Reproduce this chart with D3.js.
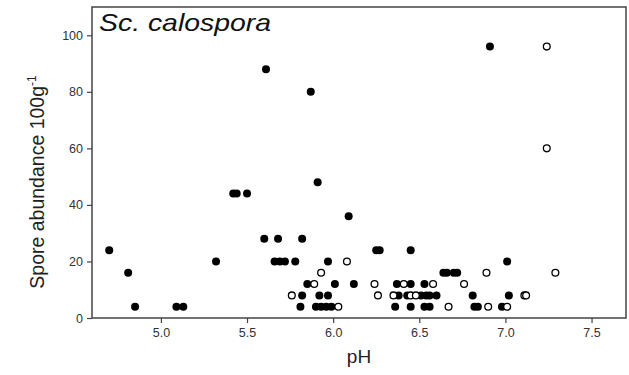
<!DOCTYPE html>
<html>
<head>
<meta charset="utf-8">
<script src="https://cdn.jsdelivr.net/npm/d3@7"></script>
<style>
  body { margin: 0; background: #fff; }
  text { font-family: "Liberation Sans", Arial, sans-serif; }
</style>
</head>
<body>
<div id="chart"></div>
<script>
// filled symbols
var filledPH = [4.70, 4.81, 4.85, 5.09, 5.13, 5.32, 5.42, 5.44, 5.50, 5.60, 5.68, 5.66, 5.69, 5.72,
  5.61, 5.87, 5.91, 6.09, 5.82, 5.78, 5.97, 5.85, 6.01, 6.12, 5.82, 5.92, 5.97, 5.81, 5.90, 5.93,
  5.96, 5.99, 6.25, 6.27, 6.45, 6.64, 6.66, 6.70, 6.72, 6.37, 6.45, 6.53, 6.38, 6.43, 6.51, 6.54,
  6.56, 6.60, 6.81, 6.36, 6.45, 6.53, 6.56, 6.82, 6.84, 7.01, 7.02, 6.98, 6.91];
var filledSpores = [24, 16, 4, 4, 4, 20, 44, 44, 44, 28, 28, 20, 20, 20,
  88, 80, 48, 36, 28, 20, 20, 12, 12, 12, 8, 8, 8, 4, 4, 4,
  4, 4, 24, 24, 24, 16, 16, 16, 16, 12, 12, 12, 8, 8, 8, 8,
  8, 8, 8, 4, 4, 4, 4, 4, 4, 20, 8, 4, 96];
// open symbols
var openPH = [5.93, 6.08, 5.89, 6.24, 5.76, 6.26, 6.03, 6.89, 6.41, 6.58, 6.76, 6.35, 6.45, 6.48,
  6.67, 6.90, 7.29, 7.11, 7.12, 7.01, 7.24, 7.24];
var openSpores = [16, 20, 12, 12, 8, 8, 4, 16, 12, 12, 12, 8, 8, 8,
  4, 4, 16, 8, 8, 4, 96, 60];

var xTicks = [5.0, 5.5, 6.0, 6.5, 7.0, 7.5];
var yTicks = [0, 20, 40, 60, 80, 100];

var width = 629, height = 375;
var margin = {top: 7, right: 3, bottom: 57, left: 92};

var svg = d3.select("#chart").append("svg")
    .attr("width", width)
    .attr("height", height);

var x = d3.scaleLinear().domain([4.6, 7.7]).range([margin.left, width - margin.right]);
var y = d3.scaleLinear().domain([0, 110]).range([height - margin.bottom, margin.top]);

// frame
svg.append("rect")
    .attr("x", margin.left)
    .attr("y", margin.top)
    .attr("width", width - margin.left - margin.right)
    .attr("height", height - margin.top - margin.bottom)
    .style("fill", "none")
    .style("stroke", "#444")
    .style("stroke-width", 1.5);

var xAxis = svg.append("g")
    .attr("transform", "translate(0," + (height - margin.bottom) + ")")
    .call(d3.axisBottom(x).tickValues(xTicks).tickFormat(d3.format(".1f")).tickSize(5).tickPadding(5));

var yAxis = svg.append("g")
    .attr("transform", "translate(" + margin.left + ",0)")
    .call(d3.axisLeft(y).tickValues(yTicks).tickSize(5).tickPadding(4));

[xAxis, yAxis].forEach(function(g) {
  g.select(".domain").remove();
  g.selectAll(".tick line").style("stroke", "#444").style("stroke-width", 1.2);
  g.selectAll(".tick text")
    .style("font-family", "'Liberation Sans', Arial, sans-serif")
    .style("font-size", "12.5px")
    .style("fill", "#333");
});

// points
svg.append("g").selectAll("circle").data(filledPH)
  .enter()
  .append("circle")
  .attr("cx", function(d) { return x(d); })
  .attr("cy", function(d, i) { return y(filledSpores[i]); })
  .attr("r", 4)
  .style("fill", "#000");

svg.append("g").selectAll("circle").data(openPH)
  .enter()
  .append("circle")
  .attr("cx", function(d) { return x(d); })
  .attr("cy", function(d, i) { return y(openSpores[i]); })
  .attr("r", 3.4)
  .style("fill", "#fff")
  .style("stroke", "#000")
  .style("stroke-width", 1.3);

// title
svg.append("text")
    .attr("x", 99)
    .attr("y", 31)
    .attr("textLength", 172)
    .attr("lengthAdjust", "spacingAndGlyphs")
    .style("font-size", "24px")
    .style("font-style", "italic")
    .style("fill", "#111")
    .text("Sc. calospora");

// axis labels
svg.append("text")
    .attr("x", 359)
    .attr("y", 363)
    .attr("text-anchor", "middle")
    .style("font-size", "19px")
    .style("fill", "#222")
    .text("pH");

var yLab = svg.append("text")
    .attr("transform", "translate(44,182) rotate(-90)")
    .attr("text-anchor", "middle")
    .style("font-size", "19.5px")
    .style("fill", "#222");
yLab.append("tspan").text("Spore abundance 100g");
yLab.append("tspan").attr("dy", -8).style("font-size", "12px").text("-1");
</script>
</body>
</html>
